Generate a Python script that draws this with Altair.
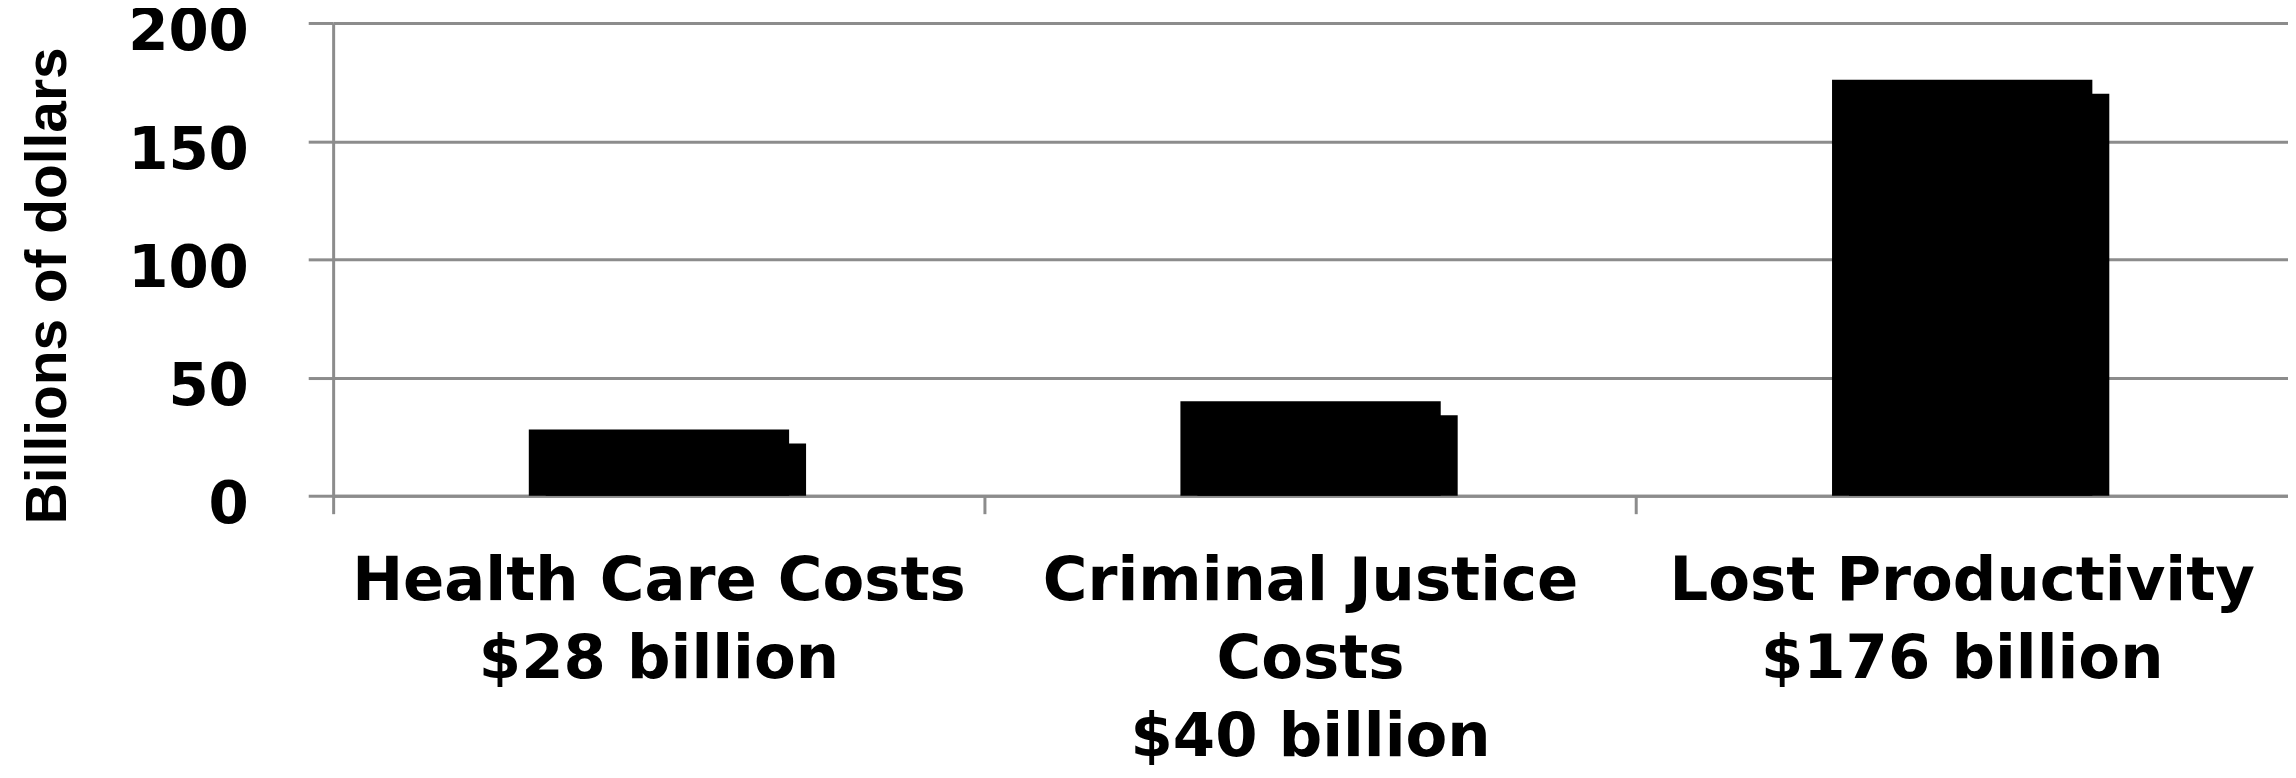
import altair as alt
import pandas as pd

categories = [
    "Health Care Costs|$28 billion",
    "Criminal Justice|Costs|$40 billion",
    "Lost Productivity|$176 billion",
]
values = [28, 40, 176]
y_ticks = [0, 50, 100, 150, 200]

df = pd.DataFrame({"category": categories, "value": values})

GRAY = "#8c8c8c"
FONT = "DejaVu Sans"

x_enc = alt.X(
    "category:N",
    sort=categories,
    scale=alt.Scale(paddingInner=0, paddingOuter=0),
    axis=alt.Axis(
        title=None,
        labelAngle=0,
        labelExpr="split(datum.label, '|')",
        labelFont=FONT,
        labelFontSize=61,
        labelFontWeight="bold",
        labelColor="black",
        labelLineHeight=78,
        labelBaseline="top",
        labelPadding=38,
        labelLimit=0,
        labelOverlap=False,
        bandPosition=0,
        ticks=True,
        tickSize=18,
        tickWidth=3,
        tickColor=GRAY,
        domainColor=GRAY,
        domainWidth=3,
        grid=False,
    ),
)

y_enc = alt.Y(
    "value:Q",
    scale=alt.Scale(domain=[0, 200], nice=False),
    axis=alt.Axis(
        title="Billions of dollars",
        titleFont="Liberation Sans",
        titleFontSize=57,
        titleFontWeight="bold",
        titleColor="black",
        titleX=-268,
        titleY=263,
        titleAngle=-90,
        titleBaseline="alphabetic",
        values=y_ticks,
        labelFont=FONT,
        labelFontSize=58,
        labelFontWeight="bold",
        labelColor="black",
        labelPadding=60,
        labelOffset=10,
        tickSize=25,
        tickWidth=3,
        tickColor=GRAY,
        domainColor=GRAY,
        domainWidth=3,
        grid=True,
        gridColor=GRAY,
        gridWidth=3,
    ),
)

shadow = alt.Chart(df).mark_bar(
    color="black", width=261, xOffset=17, x2Offset=17, yOffset=14, y2Offset=0
).encode(x=x_enc, y=y_enc, y2=alt.datum(0))

main = alt.Chart(df).mark_bar(color="black", width=261).encode(x=x_enc, y=y_enc)

chart = (
    alt.layer(shadow, main)
    .properties(
        width=1960,
        height=474,
        autosize=alt.AutoSizeParams(type="none"),
        padding={"left": 326, "top": 14, "right": 0, "bottom": 282},
        background="white",
    )
    .configure_view(stroke=None)
)

chart.save("out.html", embed_options={"renderer": "svg", "actions": False})
